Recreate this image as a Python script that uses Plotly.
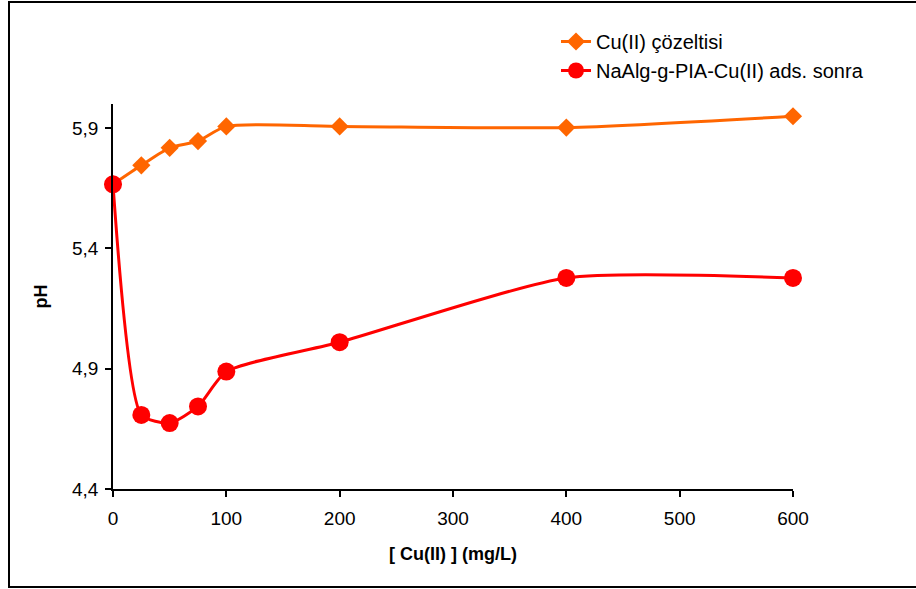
import plotly.graph_objects as go

# Cu(II) concentration (mg/L)
conc = [0, 25, 50, 75, 100, 200, 400, 600]
# pH of the Cu(II) solution
ph_solution = [5.666, 5.745, 5.818, 5.846, 5.907, 5.907, 5.902, 5.949]
# pH after adsorption on NaAlg-g-PIA
ph_after_ads = [5.666, 4.708, 4.674, 4.743, 4.888, 5.010, 5.277, 5.277]

x_ticks = [0, 100, 200, 300, 400, 500, 600]
y_ticks = [4.4, 4.9, 5.4, 5.9]

FONT = "Liberation Sans, Arial, sans-serif"

fig = go.Figure()
fig.add_trace(go.Scatter(
    x=conc, y=ph_solution, name="Cu(II) çözeltisi",
    mode="lines+markers",
    line=dict(color="#FF6600", width=3, shape="spline", smoothing=0.7),
    marker=dict(symbol="diamond", size=14, color="#FF6600"),
    cliponaxis=False,
))
fig.add_trace(go.Scatter(
    x=conc, y=ph_after_ads, name="NaAlg-g-PIA-Cu(II) ads. sonra",
    mode="lines+markers",
    line=dict(color="#FF0000", width=3, shape="spline", smoothing=0.6),
    marker=dict(symbol="circle", size=18, color="#FF0000"),
    cliponaxis=False,
))

# plot area spans x 113..793, y 104..489 px
L, R, T, B = 113, 123, 104, 100
W, H = 916 - L - R, 589 - T - B

def px_x(p):
    return (p - L) / W

def px_y(p):
    return (589 - B - p) / H

fig.update_layout(
    width=916, height=589,
    margin=dict(l=L, r=R, t=T, b=B),
    paper_bgcolor="white", plot_bgcolor="white",
    separators=", ",
    font=dict(family=FONT, size=19, color="black"),
    showlegend=True,
    legend=dict(
        x=px_x(556), y=px_y(22), xanchor="left", yanchor="top",
        font=dict(family=FONT, size=20, color="black"),
        bgcolor="rgba(0,0,0,0)", tracegroupgap=0,
    ),
    xaxis=dict(
        range=[0, 600], tickvals=x_ticks, ticktext=[str(v) for v in x_ticks],
        showgrid=False, zeroline=False, showline=True,
        linecolor="black", linewidth=1.5,
        ticks="outside", ticklen=6, tickwidth=1.5, tickcolor="black",
        tickfont=dict(size=19), ticklabelstandoff=5,
        title=dict(text="<b>[ Cu(II) ] (mg/L)</b>", font=dict(size=18), standoff=20),
    ),
    yaxis=dict(
        range=[4.4, 6.0], tickvals=y_ticks, tickformat=".1f",
        showgrid=False, zeroline=False, showline=True,
        linecolor="black", linewidth=1.5,
        ticks="outside", ticklen=6, tickwidth=1.5, tickcolor="black",
        tickfont=dict(size=19), ticklabelstandoff=3,
        title=dict(text="<b>pH</b>", font=dict(size=18), standoff=20),
    ),
    shapes=[dict(
        type="rect", xref="paper", yref="paper",
        x0=px_x(9), x1=px_x(918), y0=px_y(587), y1=px_y(2),
        line=dict(color="black", width=2), fillcolor="rgba(0,0,0,0)",
        layer="below",
    )],
)

fig.write_html("out.html")
